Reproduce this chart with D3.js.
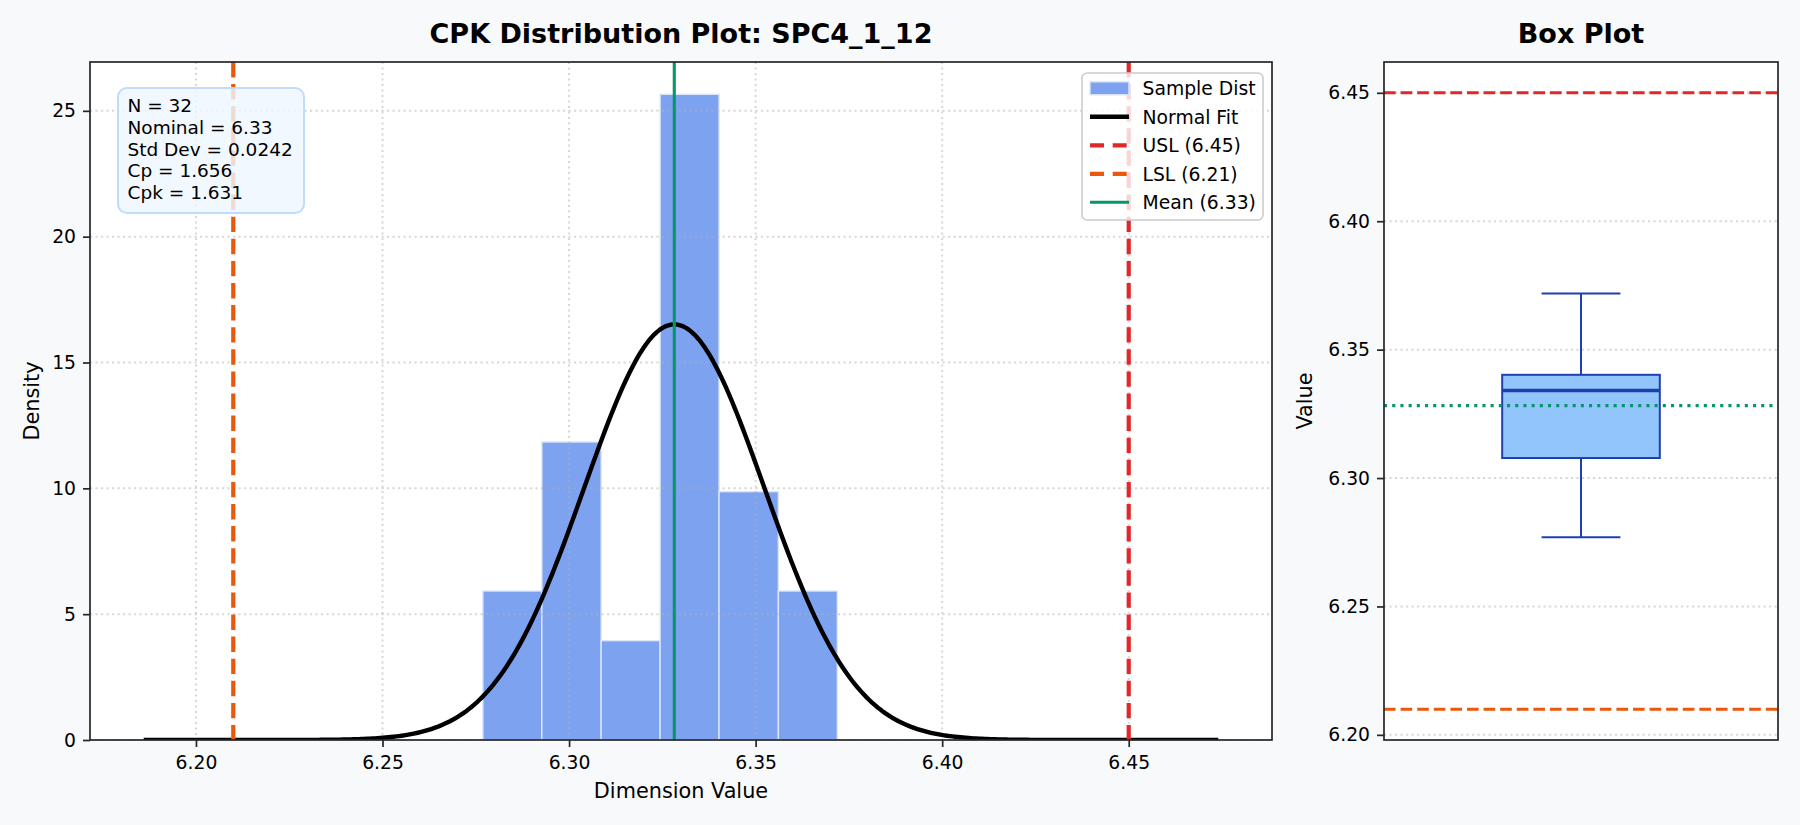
<!DOCTYPE html>
<html><head><meta charset="utf-8">
<script src="https://cdn.jsdelivr.net/npm/d3@7"></script>
<style>body{margin:0;background:#f8f9fb} text{font-family:"DejaVu Sans",sans-serif}</style>
</head><body><svg id="c" width="1800" height="825"></svg>
<script>
// ---- data ----
const binEdges = [6.2769, 6.2927, 6.3086, 6.3244, 6.3402, 6.3561, 6.3719];
const binCounts = [3, 6, 2, 13, 5, 3];
const sampleN = 32;
const meanValue = 6.3282;
const stdDev = 0.024155;
const nominalValue = 6.33;
const uslValue = 6.45;
const lslValue = 6.21;
const cpValue = 1.656;
const cpkValue = 1.631;
const boxStatNames = ["whiskerLow", "q1", "median", "q3", "whiskerHigh"];
const boxStatValues = [6.2769, 6.3078, 6.3341, 6.3402, 6.3719];
const xTickValues = [6.20, 6.25, 6.30, 6.35, 6.40, 6.45];
const yTickValues = [0, 5, 10, 15, 20, 25];
const boxTickValues = [6.20, 6.25, 6.30, 6.35, 6.40, 6.45];
const legendLabels = ["Sample Dist", "Normal Fit", "USL (6.45)", "LSL (6.21)", "Mean (6.33)"];
const titleMain = "CPK Distribution Plot: SPC4_1_12";
const titleBox = "Box Plot";

// ---- derived ----
const binWidth = (binEdges[binEdges.length-1] - binEdges[0]) / binCounts.length;
const bins = binCounts.map((c, i) => ({x0: binEdges[i], x1: binEdges[i+1], density: c / (sampleN * binWidth)}));
const specPad = 0.1 * (uslValue - lslValue);
const curveX0 = lslValue - specPad, curveX1 = uslValue + specPad;
const curvePts = d3.range(0, 401).map(i => {
  const x = curveX0 + i * (curveX1 - curveX0) / 400;
  const z = (x - meanValue) / stdDev;
  return [x, Math.exp(-0.5 * z * z) / (stdDev * Math.sqrt(2 * Math.PI))];
});
const box = Object.fromEntries(boxStatNames.map((n, i) => [n, boxStatValues[i]]));

const C = {usl: "#e0282b", lsl: "#ea580c", mean: "#079669", bar: "#7da2f0", boxFill: "#93c5fd", boxEdge: "#1e40af", spine: "#262626", grid: "#b0b0b0"};

const svg = d3.select("#c");
svg.append("rect").attr("width", 1800).attr("height", 825).attr("fill", "#f8f9fb");

// ---- main axes ----
const M = {l: 90, r: 1272, t: 62, b: 740};
const xr = curveX1 - curveX0;
const mx = d3.scaleLinear().domain([curveX0 - 0.05 * xr, curveX1 + 0.05 * xr]).range([M.l, M.r]);
const ymax = d3.max(bins, d => d.density) * 1.05;
const my = d3.scaleLinear().domain([0, ymax]).range([M.b, M.t]);

const gm = svg.append("g");
gm.append("rect").attr("x", M.l).attr("y", M.t).attr("width", M.r - M.l).attr("height", M.b - M.t).attr("fill", "#fff");
gm.append("defs").append("clipPath").attr("id", "mclip").append("rect")
  .attr("x", M.l).attr("y", M.t).attr("width", M.r - M.l).attr("height", M.b - M.t);
const gp = gm.append("g").attr("clip-path", "url(#mclip)");

gp.selectAll("rect.bar").data(bins).join("rect").attr("class", "bar")
  .attr("x", d => mx(d.x0)).attr("width", d => mx(d.x1) - mx(d.x0))
  .attr("y", d => my(d.density)).attr("height", d => my(0) - my(d.density))
  .attr("fill", C.bar).attr("stroke", "#dce6fb").attr("stroke-width", 1.4);

// grid
gp.selectAll("line.gx").data(xTickValues).join("line").attr("class", "gx")
  .attr("x1", d => mx(d)).attr("x2", d => mx(d)).attr("y1", M.t).attr("y2", M.b)
  .attr("stroke", C.grid).attr("stroke-opacity", 0.5).attr("stroke-width", 2).attr("stroke-dasharray", "2.1,3.4");
gp.selectAll("line.gy").data(yTickValues).join("line").attr("class", "gy")
  .attr("y1", d => my(d)).attr("y2", d => my(d)).attr("x1", M.l).attr("x2", M.r)
  .attr("stroke", C.grid).attr("stroke-opacity", 0.5).attr("stroke-width", 2).attr("stroke-dasharray", "2.1,3.4");

// normal curve
gp.append("path").datum(curvePts).attr("fill", "none").attr("stroke", "#000").attr("stroke-width", 4.4)
  .attr("stroke-linejoin", "round")
  .attr("d", d3.line().x(d => mx(d[0])).y(d => my(d[1])));

// spec lines + mean
gp.append("line").attr("x1", mx(uslValue)).attr("x2", mx(uslValue)).attr("y1", M.t).attr("y2", M.b)
  .attr("stroke", C.usl).attr("stroke-width", 4.2).attr("stroke-dasharray", "15.4,6.7");
gp.append("line").attr("x1", mx(lslValue)).attr("x2", mx(lslValue)).attr("y1", M.t).attr("y2", M.b)
  .attr("stroke", C.lsl).attr("stroke-width", 4.2).attr("stroke-dasharray", "15.4,6.7");
gp.append("line").attr("x1", mx(meanValue)).attr("x2", mx(meanValue)).attr("y1", M.t).attr("y2", M.b)
  .attr("stroke", C.mean).attr("stroke-width", 3.1);

// frame
gm.append("rect").attr("x", M.l).attr("y", M.t).attr("width", M.r - M.l).attr("height", M.b - M.t)
  .attr("fill", "none").attr("stroke", C.spine).attr("stroke-width", 1.7);

// axes
const fmt2 = d3.format(".2f");
const ax = gm.append("g").attr("transform", `translate(0,${M.b})`)
  .call(d3.axisBottom(mx).tickValues(xTickValues).tickFormat(fmt2).tickSize(7).tickPadding(9));
const ay = gm.append("g").attr("transform", `translate(${M.l},0)`)
  .call(d3.axisLeft(my).tickValues(yTickValues).tickFormat(d3.format("d")).tickSize(7).tickPadding(7));
[ax, ay].forEach(a => {
  a.select(".domain").remove();
  a.selectAll(".tick line").attr("stroke", C.spine).attr("stroke-width", 1.7);
  a.selectAll(".tick text").attr("font-size", 18.75).attr("fill", "#000").attr("font-family", "DejaVu Sans");
});

// labels
svg.append("text").attr("x", (M.l + M.r) / 2).attr("y", 43).attr("text-anchor", "middle")
  .attr("font-size", 27).attr("font-weight", "bold").text(titleMain);
svg.append("text").attr("x", (M.l + M.r) / 2).attr("y", 798).attr("text-anchor", "middle")
  .attr("font-size", 20.8).text("Dimension Value");
svg.append("text").attr("transform", `translate(39,${(M.t + M.b) / 2}) rotate(-90)`).attr("text-anchor", "middle")
  .attr("font-size", 20.8).text("Density");

// stats text box
const statLines = [`N = ${sampleN}`, `Nominal = ${nominalValue.toFixed(2)}`, `Std Dev = ${stdDev.toFixed(4)}`,
  `Cp = ${cpValue.toFixed(3)}`, `Cpk = ${cpkValue.toFixed(3)}`];
gm.append("rect").attr("x", 118).attr("y", 88).attr("width", 186).attr("height", 125).attr("rx", 9)
  .attr("fill", "#eff6ff").attr("fill-opacity", 0.82).attr("stroke", "#bfdbfe").attr("stroke-width", 2);
gm.selectAll("text.stat").data(statLines).join("text").attr("class", "stat")
  .attr("x", 127.5).attr("y", (d, i) => 111.7 + i * 21.9).attr("font-size", 18.5).text(d => d);

// legend
const lg = gm.append("g");
lg.append("rect").attr("x", 1082).attr("y", 73).attr("width", 181).attr("height", 147).attr("rx", 5)
  .attr("fill", "#fff").attr("fill-opacity", 0.8).attr("stroke", "#cccccc").attr("stroke-width", 1.6);
const legY = i => 95.3 + i * 28.5;
lg.append("rect").attr("x", 1090).attr("y", legY(0) - 13.5).attr("width", 39).attr("height", 13)
  .attr("fill", C.bar).attr("stroke", "#dce6fb").attr("stroke-width", 1.4);
const legLines = [
  {i: 1, c: "#000", w: 4.4, dash: null},
  {i: 2, c: C.usl, w: 4.2, dash: "14,8.7"},
  {i: 3, c: C.lsl, w: 4.2, dash: "14,8.7"},
  {i: 4, c: C.mean, w: 3.1, dash: null}];
legLines.forEach(L => {
  lg.append("line").attr("x1", 1090).attr("x2", 1129).attr("y1", legY(L.i) - 7).attr("y2", legY(L.i) - 7)
    .attr("stroke", L.c).attr("stroke-width", L.w).attr("stroke-dasharray", L.dash);
});
lg.selectAll("text").data(legendLabels).join("text").attr("x", 1142.5).attr("y", (d, i) => legY(i))
  .attr("font-size", 18.75).text(d => d);

// ---- box axes ----
const B = {l: 1384, r: 1778, t: 62, b: 740};
const bx = d3.scaleLinear().domain([0.5, 1.5]).range([B.l, B.r]);
const yr = uslValue - lslValue;
const by = d3.scaleLinear().domain([lslValue - 0.05 * yr, uslValue + 0.05 * yr]).range([B.b, B.t]);
const gb = svg.append("g");
gb.append("rect").attr("x", B.l).attr("y", B.t).attr("width", B.r - B.l).attr("height", B.b - B.t).attr("fill", "#fff");

gb.selectAll("line.gy").data(boxTickValues).join("line").attr("class", "gy")
  .attr("y1", d => by(d)).attr("y2", d => by(d)).attr("x1", B.l).attr("x2", B.r)
  .attr("stroke", C.grid).attr("stroke-opacity", 0.5).attr("stroke-width", 2).attr("stroke-dasharray", "2.1,3.4");

// whiskers
gb.append("line").attr("x1", bx(1)).attr("x2", bx(1)).attr("y1", by(box.q3)).attr("y2", by(box.whiskerHigh))
  .attr("stroke", C.boxEdge).attr("stroke-width", 2);
gb.append("line").attr("x1", bx(1)).attr("x2", bx(1)).attr("y1", by(box.q1)).attr("y2", by(box.whiskerLow))
  .attr("stroke", C.boxEdge).attr("stroke-width", 2);
[box.whiskerHigh, box.whiskerLow].forEach(v => {
  gb.append("line").attr("x1", bx(0.9)).attr("x2", bx(1.1)).attr("y1", by(v)).attr("y2", by(v))
    .attr("stroke", C.boxEdge).attr("stroke-width", 2);
});
gb.append("rect").attr("x", bx(0.8)).attr("width", bx(1.2) - bx(0.8)).attr("y", by(box.q3)).attr("height", by(box.q1) - by(box.q3))
  .attr("fill", C.boxFill).attr("stroke", C.boxEdge).attr("stroke-width", 2);
gb.append("line").attr("x1", bx(0.8)).attr("x2", bx(1.2)).attr("y1", by(box.median)).attr("y2", by(box.median))
  .attr("stroke", C.boxEdge).attr("stroke-width", 3.4);

// spec lines & mean
gb.append("line").attr("x1", B.l).attr("x2", B.r).attr("y1", by(uslValue)).attr("y2", by(uslValue))
  .attr("stroke", C.usl).attr("stroke-width", 3.1).attr("stroke-dasharray", "11.6,5");
gb.append("line").attr("x1", B.l).attr("x2", B.r).attr("y1", by(lslValue)).attr("y2", by(lslValue))
  .attr("stroke", C.lsl).attr("stroke-width", 3.1).attr("stroke-dasharray", "11.6,5");
gb.append("line").attr("x1", B.l).attr("x2", B.r).attr("y1", by(meanValue)).attr("y2", by(meanValue))
  .attr("stroke", C.mean).attr("stroke-width", 3.1).attr("stroke-dasharray", "3.1,5.1");

gb.append("rect").attr("x", B.l).attr("y", B.t).attr("width", B.r - B.l).attr("height", B.b - B.t)
  .attr("fill", "none").attr("stroke", C.spine).attr("stroke-width", 1.7);
const aby = gb.append("g").attr("transform", `translate(${B.l},0)`)
  .call(d3.axisLeft(by).tickValues(boxTickValues).tickFormat(fmt2).tickSize(7).tickPadding(7));
aby.select(".domain").remove();
aby.selectAll(".tick line").attr("stroke", C.spine).attr("stroke-width", 1.7);
aby.selectAll(".tick text").attr("font-size", 18.75).attr("fill", "#000").attr("font-family", "DejaVu Sans");

svg.append("text").attr("x", (B.l + B.r) / 2).attr("y", 43).attr("text-anchor", "middle")
  .attr("font-size", 27).attr("font-weight", "bold").text(titleBox);
svg.append("text").attr("transform", `translate(1312,${(B.t + B.b) / 2}) rotate(-90)`).attr("text-anchor", "middle")
  .attr("font-size", 20.8).text("Value");
</script></body></html>
